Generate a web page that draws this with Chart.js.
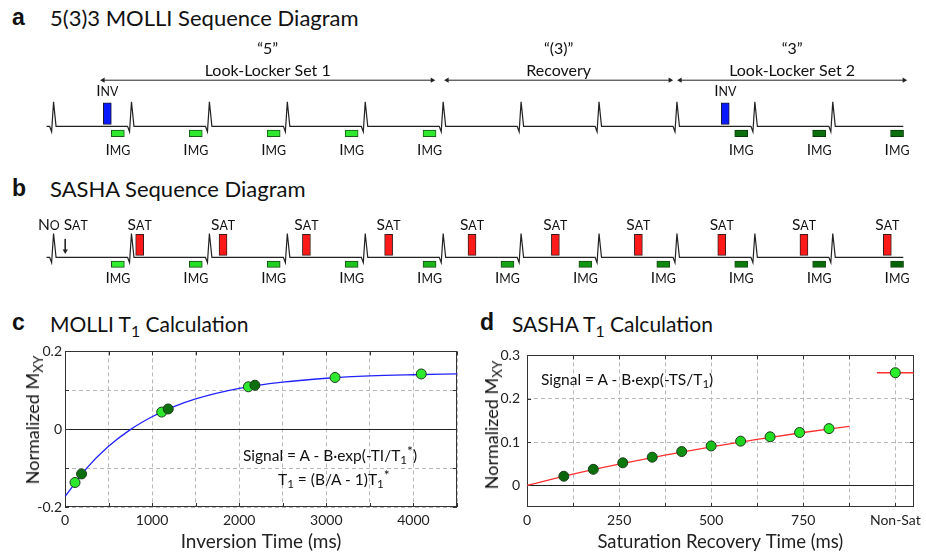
<!DOCTYPE html>
<html><head><meta charset="utf-8">
<script src="https://cdn.jsdelivr.net/npm/chart.js@4.4.1/dist/chart.umd.min.js"></script>
<style>
html,body{margin:0;padding:0;background:#fff;}
#wrap{position:relative;width:926px;height:554px;overflow:hidden;font-family:Lato,"Open Sans",sans-serif;color:#111;}
canvas{position:absolute;display:block;}
.tx{position:absolute;white-space:nowrap;line-height:1;}
.pl{font-family:"Liberation Sans",Arial,sans-serif;font-weight:bold;font-size:23px;}
.ti{font-size:22px;}
.ti2{font-size:21px;}
.eq{font-size:15.5px;}
.yt{font-size:18px;transform:translate(-50%,-50%) rotate(-90deg);}
sub,sup{font-size:0.75em;line-height:0;position:relative;vertical-align:baseline;}
sup{font-size:0.9em;}
sub{top:0.3em;} sup{top:-0.35em;}
</style></head><body><div id="wrap">
<div class="tx pl" style="left:12px;top:6px">a</div>
<div class="tx ti" style="left:50px;top:7px">5(3)3 MOLLI Sequence Diagram</div>
<div class="tx pl" style="left:12px;top:177px">b</div>
<div class="tx ti" style="left:50px;top:178px">SASHA Sequence Diagram</div>
<div class="tx pl" style="left:12px;top:311px">c</div>
<div class="tx ti2" style="left:50px;top:313px">MOLLI T<sub>1</sub> Calculation</div>
<div class="tx pl" style="left:480px;top:311px">d</div>
<div class="tx ti2" style="left:512px;top:313px">SASHA T<sub>1</sub> Calculation</div>
<canvas id="ca" width="926" height="140" style="left:0;top:30px"></canvas>
<canvas id="cb" width="926" height="100" style="left:0;top:200px"></canvas>
<canvas id="cc" width="463" height="214" style="left:0;top:340px"></canvas>
<canvas id="cd" width="463" height="214" style="left:463px;top:340px"></canvas>
<div class="tx yt" style="left:32px;top:420px">Normalized M<sub>XY</sub></div>
<div class="tx yt" style="left:491px;top:425px">Normalized M<sub>XY</sub></div>
<div class="tx eq" style="left:243px;top:448px">Signal = A - B·exp(-TI/T<sub>1</sub><sup>*</sup>)</div>
<div class="tx eq" style="left:278px;top:472px">T<sub>1</sub> = (B/A - 1)T<sub>1</sub><sup>*</sup></div>
<div class="tx eq" style="left:541px;top:372px">Signal = A - B·exp(-TS/T<sub>1</sub>)</div>
</div>
<script>
// ===== sequence diagram timing (ms, one heartbeat = 1000 ms) =====
const beatTimes = [0,1000,2000,3000,4000,5000,6000,7000,8000,9000,10000];
const traceStart = -90, traceEnd = 10905;
// panel a : MOLLI
const invTimes = [690, 8620];
const molliImgSet1 = [825,1825,2825,3825,4825];
const molliImgSet2 = [8825,9825,10825];
const setStarts = [636, 5051, 8041];
const setEnds = [4860, 7913, 10916];
const setQuotes = ['“5”','“(3)”','“3”'];
const setNames = ['Look-Locker Set 1','Recovery','Look-Locker Set 2'];
// panel b : SASHA
const noSatTime = 150;
const satTimes = [1105,2175,3245,4300,5370,6440,7505,8575,9630,10700];
const sashaImgTimes = [825,1825,2825,3825,4825,5825,6825,7825,8825,9825,10825];
const sashaImgColors = ['#2ef02e','#24e024','#20d020','#1cc41c','#18b418','#14a414','#119611','#0e880e','#0b7a0b','#096c09','#066006'];
// panel c : MOLLI T1 fit
const molliTI1 = [115,1110,2105,3100,4090];
const molliSig1 = [-0.137,0.044,0.109,0.133,0.142];
const molliTI2 = [190,1185,2180];
const molliSig2 = [-0.115,0.052,0.113];
const molliFitTI = [0,250,500,750,1000,1250,1500,2000,2500,3000,3500,4000,4500];
const molliFitSig = [-0.173,-0.100,-0.044,-0.001,0.032,0.058,0.078,0.105,0.121,0.131,0.137,0.140,0.142];
const molliXLabels = [0,1000,2000,3000,4000];
const molliYLabels = [-0.2,0,0.2];
// panel d : SASHA T1 fit
const sashaTS = [100,180,260,340,420,500,580,660,740,820];
const sashaSig = [0.021,0.037,0.052,0.065,0.078,0.091,0.102,0.112,0.122,0.131];
const sashaDotColors = ['#0a640a','#0b6e0b','#0c780c','#0e820e','#109010','#18c018','#1ed21e','#22de22','#26e626','#2aee2a'];
const sashaFitTS = [0,125,250,375,500,625,750,875];
const sashaFitSig = [0,0.026,0.049,0.070,0.089,0.106,0.122,0.136];
const nonSatPos = 1000, nonSatSig = 0.26;
const nonSatLineTS = [950,1050];
const sashaXLabelVals = [0,250,500,750,1000];
const sashaXLabelText = ['0','250','500','750','Non-Sat'];
const sashaYLabels = [0,0.1,0.2,0.3];

const FONT = 'Lato, "Open Sans", sans-serif';
Chart.defaults.font.family = FONT;
Chart.defaults.color = '#222';
const zip = (xs, ys) => xs.map((x,i)=>({x, y:ys[i]}));
const near = (a,b) => Math.abs(a-b) < 1e-6;

// ---------- diagrams ----------
const X_MIN = -636, X_MAX = 11145;
function drawSmallCaps(ctx, text, cx, cy, size){
  const small = size*0.8;
  const segs = [...text].map(ch => {
    const isLower = ch !== ch.toUpperCase();
    return {ch: ch.toUpperCase(), sz: isLower ? small : size};
  });
  let w = 0;
  for(const s of segs){ ctx.font = `${s.sz}px ${FONT}`; s.w = ctx.measureText(s.ch).width; w += s.w; }
  let x = cx - w/2; const base = cy + size*0.36;
  ctx.textAlign='left'; ctx.textBaseline='alphabetic';
  for(const s of segs){ ctx.font = `${s.sz}px ${FONT}`; ctx.fillText(s.ch, x, base); x += s.w; }
}
const labelPlugin = {
  id:'seqLabels',
  afterDatasetsDraw(chart, args, opts){
    const {ctx, scales:{x,y}} = chart;
    ctx.save(); ctx.fillStyle='#111';
    for(const l of opts.items){
      const px = x.getPixelForValue(l.t), py = y.getPixelForValue(l.y);
      if(l.sc){ drawSmallCaps(ctx, l.text, px, py, l.size); }
      else { ctx.font = `${l.size}px ${FONT}`; ctx.textAlign='center'; ctx.textBaseline='middle'; ctx.fillText(l.text, px, py); }
    }
    ctx.restore();
  }
};
function ecgTrace(){
  const pts=[{x:traceStart,y:0}];
  for(const b of beatTimes){ pts.push({x:b-50,y:0},{x:b-25,y:-0.22},{x:b,y:1},{x:b+32,y:0}); }
  pts.push({x:traceEnd,y:0});
  return pts;
}
const ecgDataset = () => ({type:'line', data:ecgTrace(), borderColor:'#222', borderWidth:1.2, pointRadius:0, tension:0, order:2});
function rects(times, lo, hi, fill, border, width){
  return {type:'bar', data: times.map(t=>({x:t,y:[lo,hi]})), backgroundColor:fill, borderColor:border,
    borderWidth:1, borderSkipped:false, barThickness:width, grouped:false, order:1};
}
function hArrow(s,e,yv){
  return {type:'line', data:[{x:s,y:yv},{x:e,y:yv}], borderColor:'#222', borderWidth:1, pointStyle:'triangle',
    pointRadius:3, pointRotation:[-90,90], pointBackgroundColor:'#222', pointBorderWidth:0, order:0};
}
function diagram(id, ymin, ymax, datasets, items){
  return new Chart(document.getElementById(id), {
    type:'bar', data:{datasets},
    options:{responsive:false, animation:false, devicePixelRatio:1, layout:{padding:0},
      plugins:{legend:{display:false}, tooltip:{enabled:false}, seqLabels:{items}},
      scales:{x:{type:'linear',min:X_MIN,max:X_MAX,display:false,offset:false},
              y:{type:'linear',min:ymin,max:ymax,display:false}}},
    plugins:[labelPlugin]
  });
}
const LBL = 15.5;
// panel a
{
  const ds = [ecgDataset(),
    rects(invTimes, 0.08, 0.96, '#0a1aff', '#1a1a33', 8),
    rects(molliImgSet1, -0.42, -0.15, '#2ee82e', '#1a5a1a', 13),
    rects(molliImgSet2, -0.42, -0.15, '#0c6e0c', '#0a3a0a', 13)];
  setStarts.forEach((s,i)=>ds.push(hArrow(s, setEnds[i], 1.885)));
  const items = [];
  invTimes.forEach(t=>items.push({t, y:1.46, text:'Inv', sc:true, size:LBL}));
  molliImgSet1.concat(molliImgSet2).forEach(t=>items.push({t, y:-0.92, text:'Img', sc:true, size:LBL}));
  setStarts.forEach((s,i)=>{
    const m=(s+setEnds[i])/2;
    items.push({t:m, y:3.15, text:setQuotes[i], size:16});
    items.push({t:m, y:2.27, text:setNames[i], size:16});
  });
  diagram('ca', -1.615, 3.769, ds, items);
}
// panel b
{
  const ds = [ecgDataset(),
    rects(satTimes, 0.08, 0.96, '#ff1a1a', '#3a1a1a', 8),
    rects(sashaImgTimes, -0.42, -0.15, sashaImgColors, '#1a4a1a', 13),
    {type:'line', data:[{x:noSatTime,y:0.77},{x:noSatTime,y:0.27}], borderColor:'#222', borderWidth:1,
     pointStyle:'triangle', pointRadius:[0,3], pointRotation:180, pointBackgroundColor:'#222', pointBorderWidth:0, order:0}];
  const items = [{t:noSatTime-30, y:1.385, text:'No Sat', sc:true, size:LBL}];
  satTimes.forEach(t=>items.push({t, y:1.385, text:'Sat', sc:true, size:LBL}));
  sashaImgTimes.forEach(t=>items.push({t, y:-0.846, text:'Img', sc:true, size:LBL}));
  diagram('cb', -1.615, 2.231, ds, items);
}

// ---------- plots ----------
const framePlugin = {
  id:'frame',
  beforeDatasetsDraw(chart){
    const {ctx, chartArea:a, scales:{x,y}} = chart;
    ctx.save(); ctx.strokeStyle='#333'; ctx.lineWidth=1;
    ctx.beginPath();
    for(const tk of x.ticks){ const p=Math.round(x.getPixelForValue(tk.value))+0.5;
      ctx.moveTo(p,a.bottom); ctx.lineTo(p,a.bottom-4); ctx.moveTo(p,a.top); ctx.lineTo(p,a.top+4); }
    for(const tk of y.ticks){ const p=Math.round(y.getPixelForValue(tk.value))+0.5;
      ctx.moveTo(a.left,p); ctx.lineTo(a.left+4,p); ctx.moveTo(a.right,p); ctx.lineTo(a.right-4,p); }
    ctx.stroke();
    ctx.strokeRect(Math.round(a.left)+0.5, Math.round(a.top)+0.5, Math.round(a.right-a.left)-1, Math.round(a.bottom-a.top)-1);
    ctx.restore();
  }
};
function plot(id, c){
  const gridColor = ctx => (ctx.tick && ctx.tick.value===0) ? '#222' : '#b8b8b8';
  return new Chart(document.getElementById(id), {
    type:'scatter', data:{datasets:c.datasets},
    options:{responsive:false, animation:false, devicePixelRatio:1,
      layout:{padding:{left:0,right:c.padRight,top:11,bottom:0}},
      plugins:{legend:{display:false}, tooltip:{enabled:false}},
      scales:{
        x:{type:'linear', min:c.xmin, max:c.xmax, afterFit:s=>{s.height=47;},
           border:{display:false, dash:[4,3]},
           grid:{color:'#b8b8b8', lineWidth:1, drawTicks:false},
           ticks:{stepSize:c.xstep, includeBounds:false, autoSkip:false, maxRotation:0, padding:5, font:{size:14}, color:'#222', callback:c.xcb},
           title:{display:true, text:c.xtitle, font:{size:c.xtsize}, color:'#222', padding:{top:0,bottom:1}}},
        y:{type:'linear', min:c.ymin, max:c.ymax, afterFit:s=>{s.width=c.yw;},
           border:{display:false, dash: ctx => (ctx.tick && ctx.tick.value===0) ? [] : [4,3]},
           grid:{color:gridColor, lineWidth:1, drawTicks:false},
           ticks:{stepSize:0.1, includeBounds:false, autoSkip:false, padding:c.ypad, font:{size:14}, color:'#222', callback:c.ycb}}
      }},
    plugins:[framePlugin]
  });
}
const dot = (data, fill) => ({type:'scatter', data, pointRadius:5, pointHoverRadius:5, pointBackgroundColor:fill,
  pointBorderColor:'#1c3c1c', pointBorderWidth:1, order:0});
plot('cc', {
  xmin:0, xmax:4500, xstep:500, ymin:-0.2, ymax:0.2, yw:65, ypad:3, padRight:5,
  xtitle:'Inversion Time (ms)', xtsize:19,
  xcb: v => molliXLabels.includes(v) ? String(v) : '',
  ycb: v => molliYLabels.some(t=>near(t,v)) ? (near(v,0)?'0':v.toFixed(1)) : '',
  datasets:[
    dot(zip(molliTI2, molliSig2), '#0c6e0c'),
    dot(zip(molliTI1, molliSig1), '#2ee82e'),
    {type:'line', data:zip(molliFitTI, molliFitSig), borderColor:'#2222ff', borderWidth:1.3, pointRadius:0, cubicInterpolationMode:'monotone', order:1}
  ]
});
plot('cd', {
  xmin:0, xmax:1050, xstep:125, ymin:-0.05, ymax:0.3, yw:64, ypad:7, padRight:6,
  xtitle:'Saturation Recovery Time (ms)', xtsize:18.5,
  xcb: v => { const i = sashaXLabelVals.indexOf(v); return i>=0 ? sashaXLabelText[i] : ''; },
  ycb: v => sashaYLabels.some(t=>near(t,v)) ? (near(v,0)?'0':v.toFixed(1)) : '',
  datasets:[
    dot(zip(sashaTS, sashaSig), sashaDotColors),
    dot([{x:nonSatPos, y:nonSatSig}], '#2aee2a'),
    {type:'line', data:zip(sashaFitTS, sashaFitSig), borderColor:'#ff3030', borderWidth:1.3, pointRadius:0, cubicInterpolationMode:'monotone', order:1},
    {type:'line', data:nonSatLineTS.map(x=>({x, y:nonSatSig})), borderColor:'#ff3030', borderWidth:1.3, pointRadius:0, order:1}
  ]
});
</script>
</body></html>
